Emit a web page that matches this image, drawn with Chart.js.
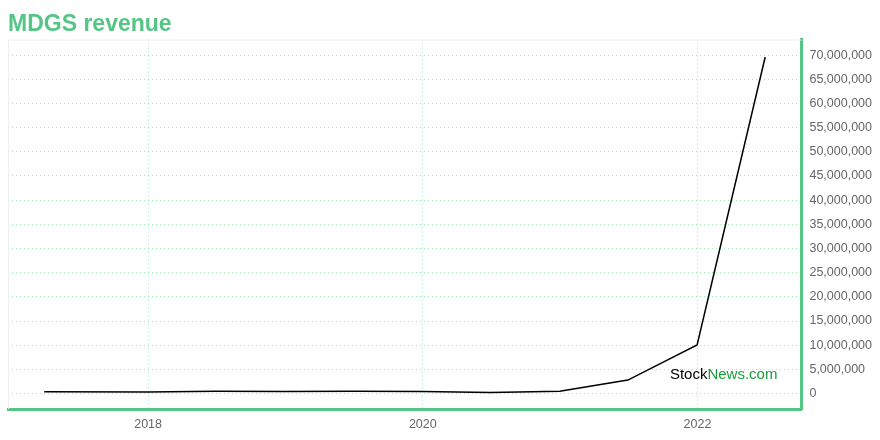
<!DOCTYPE html>
<html>
<head>
<meta charset="utf-8">
<script src="https://cdn.jsdelivr.net/npm/chart.js@4"></script>
<style>
  html, body { margin: 0; padding: 0; background: #fff; }
  #wrap { position: relative; width: 880px; height: 440px; }
</style>
</head>
<body>
<div id="wrap"><canvas id="chart"></canvas></div>
<script>
/* MDGS revenue — half-yearly reports */
const periods = ['2017-03-31', '2017-12-31', '2018-06-30', '2018-12-31', '2019-06-30', '2019-12-31',
                 '2020-06-30', '2020-12-31', '2021-06-30', '2021-12-31', '2022-06-30'];
const revenue = [350000, 300000, 450000, 400000, 450000, 420000,
                 200000, 450000, 2780000, 10050000, 69600000];
const yearTicks = [2018, 2020, 2022];
const revenueTicks = [0, 5000000, 10000000, 15000000, 20000000, 25000000, 30000000, 35000000,
                      40000000, 45000000, 50000000, 55000000, 60000000, 65000000, 70000000];

const GREEN = '#55c585';
const GRID = 'rgba(90,210,140,0.6)';
const FONT = "'Liberation Sans', Arial, Helvetica, sans-serif";

// date string -> fractional year (no date adapter available)
function toYear(s) {
  const d = new Date(s + 'T00:00:00Z');
  const y = d.getUTCFullYear();
  const start = Date.UTC(y, 0, 1), end = Date.UTC(y + 1, 0, 1);
  return y + (d.getTime() - start) / (end - start);
}

const points = periods.map((p, i) => ({ x: toYear(p), y: revenue[i] }));

// light gray frame on top and left of plot
const framePlugin = {
  id: 'frame',
  beforeDatasetsDraw(chart) {
    const { ctx, chartArea: a } = chart;
    ctx.save();
    ctx.strokeStyle = '#eeeeee';
    ctx.lineWidth = 1;
    ctx.beginPath();
    ctx.moveTo(a.left + 0.5, a.bottom);
    ctx.lineTo(a.left + 0.5, a.top + 0.5);
    ctx.lineTo(a.right, a.top + 0.5);
    ctx.stroke();
    ctx.restore();
  }
};

// StockNews.com watermark
const markPlugin = {
  id: 'mark',
  afterDatasetsDraw(chart) {
    const { ctx, chartArea: a } = chart;
    ctx.save();
    ctx.font = '15px ' + FONT;
    ctx.textBaseline = 'alphabetic';
    ctx.textAlign = 'left';
    const w1 = ctx.measureText('Stock').width;
    const w2 = ctx.measureText('News.com').width;
    const x = a.right - 24 - w1 - w2;
    const y = a.bottom - 30.5;
    ctx.fillStyle = '#000';
    ctx.fillText('Stock', x, y);
    ctx.fillStyle = '#179c3c';
    ctx.fillText('News.com', x + w1, y);
    ctx.restore();
  }
};

new Chart(document.getElementById('chart'), {
  type: 'line',
  data: {
    datasets: [{
      label: 'MDGS revenue',
      data: points,
      borderColor: '#000',
      borderWidth: 1.5,
      pointRadius: 0,
      tension: 0,
      fill: false
    }]
  },
  options: {
    responsive: true,
    maintainAspectRatio: false,
    animation: false,
    layout: { padding: { left: 8, right: 0, top: 0, bottom: 0 } },
    plugins: {
      legend: { display: false },
      tooltip: { enabled: false },
      title: {
        display: true,
        text: 'MDGS revenue',
        align: 'start',
        color: GREEN,
        font: { family: FONT, size: 23, weight: 'bold' },
        padding: { top: 10.5, bottom: 1.5 }
      }
    },
    scales: {
      x: {
        type: 'linear',
        min: 2016.98,
        max: 2022.757,
        afterBuildTicks: s => { s.ticks = yearTicks.map(v => ({ value: v })); },
        grid: { color: GRID, drawTicks: false },
        border: { color: GREEN, width: 3, dash: [1, 3] },
        ticks: {
          color: '#666',
          padding: 8,
          font: { family: FONT, size: 12.5 },
          maxRotation: 0,
          callback: v => String(v)
        }
      },
      y: {
        position: 'right',
        min: -3200000,
        max: 73200000,
        afterBuildTicks: s => { s.ticks = revenueTicks.map(v => ({ value: v })); },
        grid: { color: GRID, drawTicks: false },
        border: { color: GREEN, width: 3, dash: [1, 3] },
        ticks: {
          color: '#666',
          padding: 8,
          font: { family: FONT, size: 12.5 },
          callback: v => v.toLocaleString('en-US')
        }
      }
    }
  },
  plugins: [framePlugin, markPlugin]
});
</script>
</body>
</html>
